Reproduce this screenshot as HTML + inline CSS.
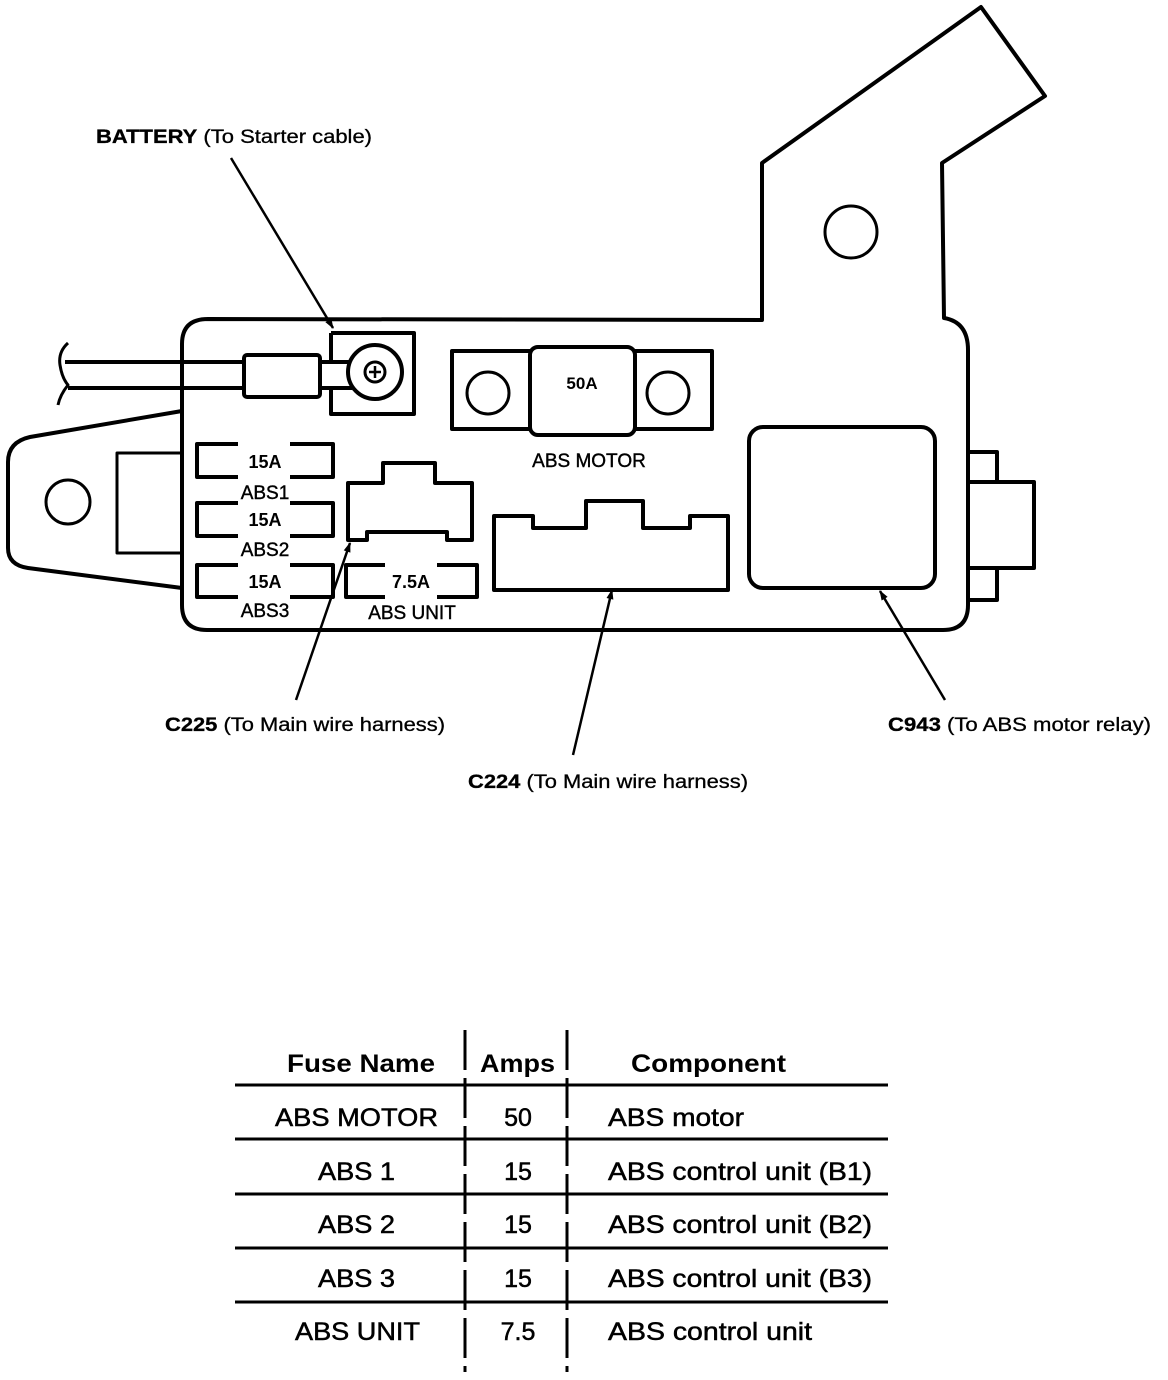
<!DOCTYPE html>
<html><head><meta charset="utf-8"><style>
html,body{margin:0;padding:0;background:#fff}
svg{display:block}
text{font-family:"Liberation Sans",Arial,sans-serif;fill:#000}
</style></head><body>
<svg width="1168" height="1380" viewBox="0 0 1168 1380" xmlns="http://www.w3.org/2000/svg">
<defs>
<marker id="ah2" viewBox="0 0 10 10" refX="9" refY="5" markerWidth="16" markerHeight="10" orient="auto" markerUnits="userSpaceOnUse"><path d="M0,1.5 L10,5 L0,8.5 z" fill="#000"/></marker></defs>
<g fill="none" stroke="#000" stroke-width="4" stroke-linejoin="round">
<path d="M208,319 L762,320 L762,163 L981,7 L1045,96 L942,163 L944,318 Q968,322 968,350 L968,605 Q968,630 943,630 L207,630 Q182,630 182,605 L182,344 Q182,319 208,319 Z"/>
<circle cx="851" cy="232" r="26" stroke-width="3"/>
<path d="M182,411 L30,437 Q8,442 8,462 L8,548 Q8,565 28,568 L182,588"/>
<circle cx="68" cy="502" r="22" stroke-width="3"/>
<path d="M182,453 L117,453 L117,553 L182,553" stroke-width="3"/>
<path d="M65,362 L244,362 M68,388 L244,388"/>
<path d="M68,343 Q58,352 60,365 Q62,378 68,385 Q60,395 58,405" stroke-width="3"/>
<rect x="244" y="355" width="76" height="42" rx="3"/>
<path d="M320,362 L352,362 M320,388 L352,388"/>
<path d="M331,333 L414,333 L414,414 L331,414 L331,390 M331,360 L331,333"/>
<circle cx="375" cy="372" r="27" fill="#fff"/>
<circle cx="375" cy="372" r="10" stroke-width="3"/>
<path d="M375,366 L375,378 M369,372 L381,372" stroke-width="2.5"/>
<path d="M238,444 L197,444 L197,477 L238,477 M290,444 L333,444 L333,477 L290,477"/>
<path d="M238,503 L197,503 L197,536 L238,536 M290,503 L333,503 L333,536 L290,536"/>
<path d="M238,565 L197,565 L197,597 L238,597 M290,565 L333,565 L333,597 L290,597"/>
<path d="M385,565 L346,565 L346,597 L385,597 M437,565 L477,565 L477,597 L437,597"/>
<path d="M348,483 L383,483 L383,463 L435,463 L435,483 L472,483 L472,540 L447,540 L447,532 L367,532 L367,540 L348,540 Z"/>
<rect x="452" y="351" width="260" height="78"/>
<rect x="530" y="347" width="105" height="88" rx="8" fill="#fff"/>
<circle cx="488" cy="393" r="21" stroke-width="3"/>
<circle cx="668" cy="393" r="21" stroke-width="3"/>
<path d="M494,516 L533,516 L533,528 L586,528 L586,501 L643,501 L643,528 L690,528 L690,516 L728,516 L728,590 L494,590 Z"/>
<rect x="749" y="427" width="186" height="161" rx="14"/>
<path d="M968,452 L997,452 L997,482 M968,600 L997,600 L997,568 M968,482 L1034,482 L1034,568 L968,568"/>
</g>
<g stroke="#000" stroke-width="2.5" fill="none">
<line x1="231" y1="158" x2="333" y2="328" marker-end="url(#ah2)"/>
<line x1="296" y1="700" x2="350" y2="543" marker-end="url(#ah2)"/>
<line x1="573" y1="755" x2="612" y2="590" marker-end="url(#ah2)"/>
<line x1="945" y1="700" x2="880" y2="591" marker-end="url(#ah2)"/>
</g>
<g font-size="18" text-anchor="middle" font-weight="bold">
<text x="265" y="468">15A</text><text x="265" y="526">15A</text><text x="265" y="588">15A</text><text x="411" y="588">7.5A</text>
<text x="582" y="389" font-size="17">50A</text>
</g>
<g font-size="19" text-anchor="middle" stroke="#000" stroke-width="0.4">
<text x="265" y="499">ABS1</text><text x="265" y="556">ABS2</text><text x="265" y="617">ABS3</text>
<text x="412" y="619">ABS UNIT</text><text x="589" y="467">ABS MOTOR</text>
</g>
<g font-size="19" stroke="#000" stroke-width="0.3" lengthAdjust="spacingAndGlyphs">
<text x="96" y="143" textLength="276" lengthAdjust="spacingAndGlyphs"><tspan font-weight="bold">BATTERY</tspan> (To Starter cable)</text>
<text x="165" y="731" textLength="280" lengthAdjust="spacingAndGlyphs"><tspan font-weight="bold">C225</tspan> (To Main wire harness)</text>
<text x="468" y="788" textLength="280" lengthAdjust="spacingAndGlyphs"><tspan font-weight="bold">C224</tspan> (To Main wire harness)</text>
<text x="888" y="731" textLength="263" lengthAdjust="spacingAndGlyphs"><tspan font-weight="bold">C943</tspan> (To ABS motor relay)</text>
</g>
<g stroke="#000" stroke-width="3">
<line x1="465" y1="1030" x2="465" y2="1372" stroke-dasharray="40 8"/>
<line x1="567" y1="1030" x2="567" y2="1372" stroke-dasharray="40 8"/>
<line x1="235" y1="1085" x2="888" y2="1085"/>
<line x1="235" y1="1139" x2="888" y2="1139"/>
<line x1="235" y1="1194" x2="888" y2="1194"/>
<line x1="235" y1="1248" x2="888" y2="1248"/>
<line x1="235" y1="1302" x2="888" y2="1302"/>
</g>
<g font-size="25" font-weight="bold">
<text x="287" y="1072" textLength="148" lengthAdjust="spacingAndGlyphs">Fuse Name</text>
<text x="480" y="1072" textLength="75" lengthAdjust="spacingAndGlyphs">Amps</text>
<text x="631" y="1072" textLength="155" lengthAdjust="spacingAndGlyphs">Component</text>
</g>
<g font-size="25" stroke="#000" stroke-width="0.5">
<text x="275" y="1126" textLength="163" lengthAdjust="spacingAndGlyphs">ABS MOTOR</text><text x="518" y="1126" text-anchor="middle">50</text><text x="608" y="1126" textLength="136" lengthAdjust="spacingAndGlyphs">ABS motor</text>
<text x="318" y="1180" textLength="77" lengthAdjust="spacingAndGlyphs">ABS 1</text><text x="518" y="1180" text-anchor="middle">15</text><text x="608" y="1180" textLength="264" lengthAdjust="spacingAndGlyphs">ABS control unit (B1)</text>
<text x="318" y="1233" textLength="77" lengthAdjust="spacingAndGlyphs">ABS 2</text><text x="518" y="1233" text-anchor="middle">15</text><text x="608" y="1233" textLength="264" lengthAdjust="spacingAndGlyphs">ABS control unit (B2)</text>
<text x="318" y="1287" textLength="77" lengthAdjust="spacingAndGlyphs">ABS 3</text><text x="518" y="1287" text-anchor="middle">15</text><text x="608" y="1287" textLength="264" lengthAdjust="spacingAndGlyphs">ABS control unit (B3)</text>
<text x="295" y="1340" textLength="125" lengthAdjust="spacingAndGlyphs">ABS UNIT</text><text x="518" y="1340" text-anchor="middle">7.5</text><text x="608" y="1340" textLength="204" lengthAdjust="spacingAndGlyphs">ABS control unit</text>
</g>
</svg>
</body></html>
